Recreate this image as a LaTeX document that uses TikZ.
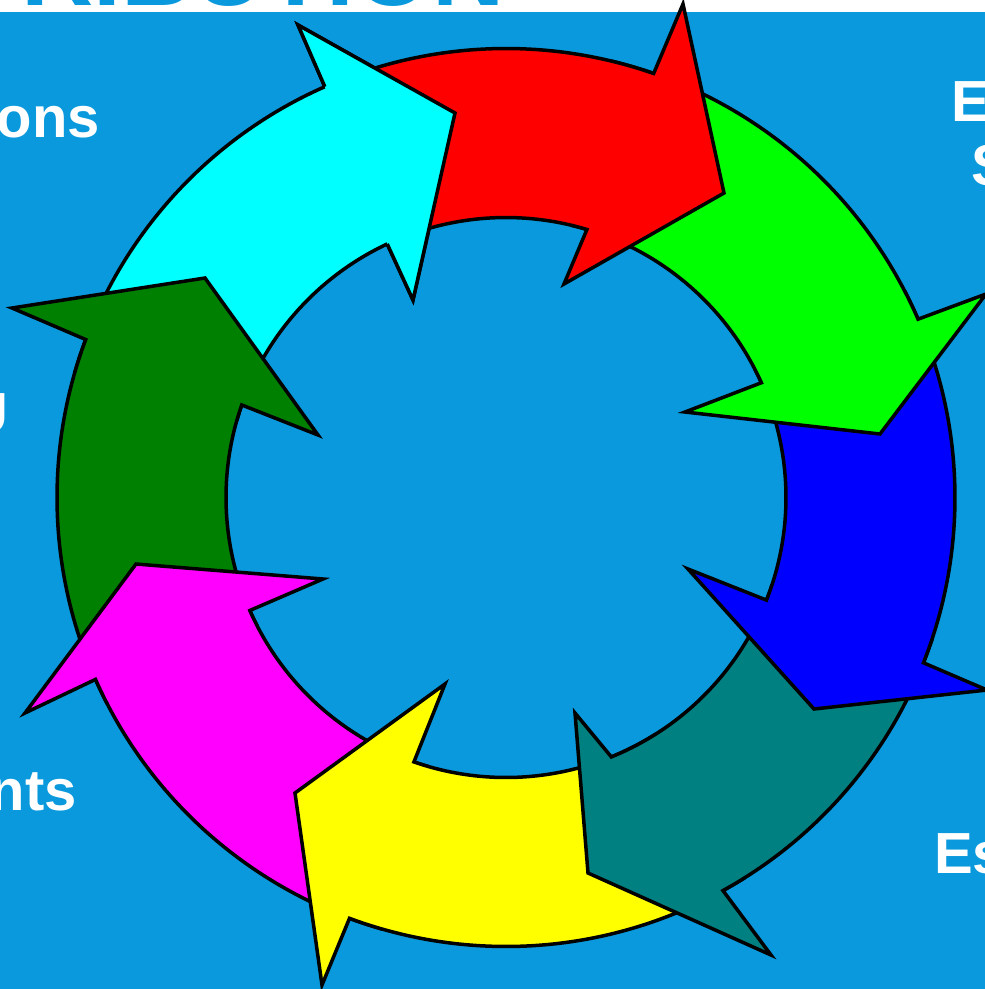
\documentclass[tikz,border=0pt]{standalone}
\usepackage{fontspec}
\setmainfont{Liberation Sans}
\usetikzlibrary{calc}
\definecolor{bgblue}{RGB}{10,153,221}
\definecolor{cyanarrow}{RGB}{0,255,255}
\definecolor{darkgreenarrow}{RGB}{0,128,0}
\definecolor{magentaarrow}{RGB}{255,0,255}
\definecolor{yellowarrow}{RGB}{255,255,0}
\definecolor{tealarrow}{RGB}{0,128,128}
\definecolor{bluearrow}{RGB}{0,0,255}
\definecolor{greenarrow}{RGB}{0,255,0}
\definecolor{redarrow}{RGB}{255,0,0}

% One curved block arrow on the ring:
% #1 fill, #2 tail angle, #3 outer shoulder angle, #4 inner shoulder angle,
% #5 outer barb, #6 tip, #7 inner barb
\newcommand\ringarrow[7]{%
  \filldraw[arrowbox, fill=#1]
    ($(c)+(#2:\Ro)$) arc[start angle=#2, end angle=#3, radius=\Ro]
    -- #5 -- #6 -- #7
    -- ($(c)+(#4:\Ri)$) arc[start angle=#4, end angle=#2, radius=\Ri]
    -- cycle;}

\begin{document}
\begin{tikzpicture}[x=1pt,y=1pt,
  arrowbox/.style={draw=black, line width=3.5pt, line join=miter},
  sidetext/.style={text=white, font=\fontsize{58}{58}\selectfont\bfseries, inner sep=0pt}]
\def\Ro{449}
\def\Ri{280}
\useasboundingbox (0,0) rectangle (985,-989);
\fill[bgblue] (0,0) rectangle (985,-989);

% title strip
\fill[white] (0,0) rectangle (985,-12);
\begin{scope}
  \clip (0,0) rectangle (985,-12);
  \node[anchor=base east, inner sep=0pt, text=bgblue,
        font=\fontsize{100}{100}\selectfont\bfseries] (title) at (505,-5) {RIBUTION};
\end{scope}

\coordinate (c) at (506,-497.5);

% ring of arrows, each head lying over the tail of the next one
\ringarrow{cyanarrow}{163.7}{113.8}{115.1}{(298,-25)}{(455,-113)}{(413,-300)}
\ringarrow{darkgreenarrow}{206.9}{159.4}{160.7}{(12,-308)}{(205,-278)}{(318,-435)}
\ringarrow{magentaarrow}{-106.2}{-156.1}{-156.2}{(25,-713)}{(136,-564)}{(323,-579)}
\ringarrow{yellowarrow}{-58.1}{-110.4}{-109.2}{(322,-985)}{(295,-793)}{(445,-684)}
\ringarrow{tealarrow}{-18.5}{-61.1}{-67.9}{(771,-955)}{(588,-873)}{(575,-713)}
\ringarrow{bluearrow}{27.2}{-21.6}{-21.5}{(987,-690)}{(814,-709)}{(688,-569)}
\ringarrow{greenarrow}{76.2}{23.4}{24.2}{(986,-294)}{(880,-434)}{(685,-412)}
\ringarrow{redarrow}{110.5}{70.8}{73.2}{(683,-4)}{(724,-193)}{(564,-284)}

% cyan head again, on top of the red tail
\fill[cyanarrow] ($(c)+(113.8:\Ro)$) -- (298,-25) -- (455,-113) -- (413,-300)
  -- ($(c)+(115.1:\Ri)$) -- cycle;
\draw[arrowbox] ($(c)+(113.8:\Ro)$) -- (298,-25) -- (455,-113) -- (413,-300)
  -- ($(c)+(115.1:\Ri)$);

% side labels
\node[sidetext, anchor=base east] (lab1) at (100,-137) {ons};
\node[sidetext, anchor=base east] (lab2) at (9,-433) {U};
\node[sidetext, anchor=base east] (lab3) at (77,-810) {nts};
\node[sidetext, anchor=base west] (lab4) at (951,-121) {E};
\node[sidetext, anchor=base west] (lab5) at (971,-185) {S};
\node[sidetext, anchor=base west] (lab6) at (934,-873) {Es};
\end{tikzpicture}
\end{document}
